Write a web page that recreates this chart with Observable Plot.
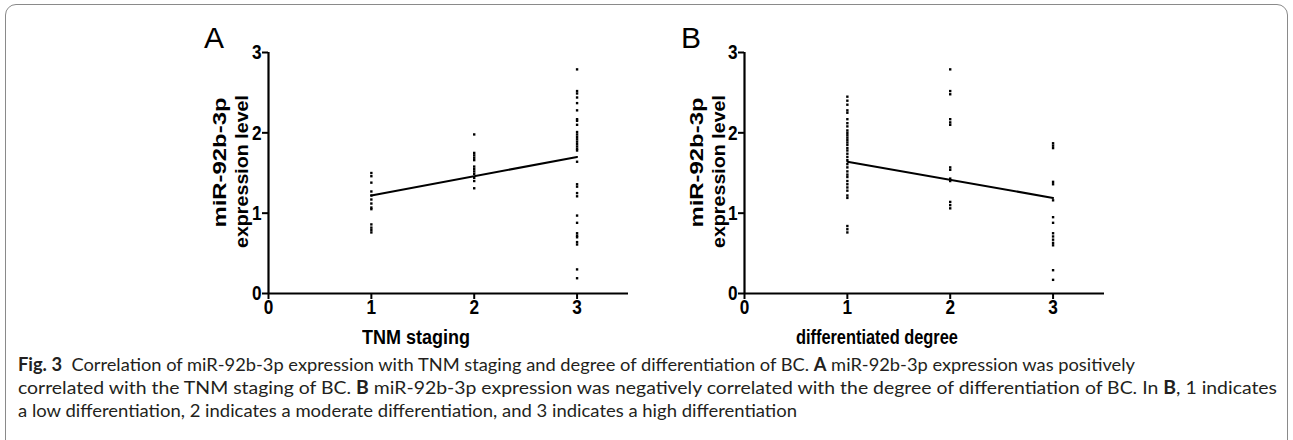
<!DOCTYPE html>
<html><head><meta charset="utf-8">
<script src="https://cdn.jsdelivr.net/npm/d3@7"></script>
<script src="https://cdn.jsdelivr.net/npm/@observablehq/plot@0.6"></script>
<style>
body{margin:0;background:#fff;}
#fig{position:relative;width:1293px;height:440px;overflow:hidden;font-family:Arial,"Liberation Sans",sans-serif;color:#000;}
#frame{position:absolute;left:5px;top:4px;width:1283px;height:470px;border:1.5px solid #8a8a8a;border-radius:11px;box-sizing:border-box;}
.panel{position:absolute;top:20px;}
.letter{position:absolute;font-size:30px;line-height:1;font-weight:normal;}
.xlab{position:absolute;font-size:20px;font-weight:bold;white-space:nowrap;line-height:1;}
.ylab{position:absolute;font-size:19px;font-weight:bold;white-space:nowrap;line-height:1;}
.cap{position:absolute;left:18px;font-family:Lato,"Open Sans",sans-serif;font-size:18px;white-space:nowrap;color:#231f20;transform-origin:0 50%;line-height:1;}
.cap b{font-weight:bold;}
</style></head>
<body>
<div id="fig">
  <div id="frame"></div>
  <div id="pA" class="panel" style="left:190px"></div>
  <div id="pB" class="panel" style="left:666px"></div>
  <div class="letter" style="left:204px;top:23px">A</div>
  <div class="letter" style="left:681px;top:23px">B</div>
  <div class="ylab" data-cx="220" data-cy="162" data-len="130">miR-92b-3p</div>
  <div class="ylab" data-cx="242" data-cy="171" data-len="153">expression level</div>
  <div class="ylab" data-cx="697" data-cy="162" data-len="130">miR-92b-3p</div>
  <div class="ylab" data-cx="719" data-cy="171" data-len="153">expression level</div>
  <div class="xlab" data-cx="416" data-cy="337" data-len="108">TNM staging</div>
  <div class="xlab" data-cx="877" data-cy="337" data-len="162">differentiated degree</div>
  <div class="cap" data-w="1117" style="top:355px"><b>Fig. 3</b>&nbsp; Correlation of miR-92b-3p expression with TNM staging and degree of differentiation of BC. <b>A</b> miR-92b-3p expression was positively</div>
  <div class="cap" data-w="1259" style="top:378px">correlated with the TNM staging of BC. <b>B</b> miR-92b-3p expression was negatively correlated with the degree of differentiation of BC. In <b>B</b>, 1 indicates</div>
  <div class="cap" data-w="779" style="top:401px">a low differentiation, 2 indicates a moderate differentiation, and 3 indicates a high differentiation</div>
</div>
<script>
// ---- data ----
const xTicks = [0, 1, 2, 3];
const yTicks = [0, 1, 2, 3];
// Panel A: TNM staging groups
const tnmStage1 = [1.50, 1.46, 1.38, 1.27, 1.22, 1.17, 1.12, 1.07, 1.05, 0.86, 0.82, 0.79, 0.76];
const tnmStage2 = [1.98, 1.75, 1.72, 1.69, 1.66, 1.58, 1.55, 1.52, 1.49, 1.44, 1.40, 1.31];
const tnmStage3 = [2.79, 2.52, 2.49, 2.44, 2.37, 2.28, 2.17, 2.15, 2.10, 2.01, 1.98, 1.95, 1.92, 1.89, 1.86, 1.83, 1.80, 1.78, 1.64, 1.36, 1.33, 1.25, 1.21, 0.97, 0.88, 0.75, 0.72, 0.70, 0.64, 0.61, 0.30, 0.19];
// Panel B: differentiated degree groups
const diffDeg1 = [2.45, 2.40, 2.35, 2.28, 2.25, 2.17, 2.12, 2.08, 2.03, 2.00, 1.97, 1.94, 1.91, 1.88, 1.85, 1.81, 1.78, 1.74, 1.70, 1.66, 1.61, 1.57, 1.52, 1.48, 1.45, 1.40, 1.36, 1.32, 1.28, 1.22, 1.19, 0.84, 0.80, 0.76];
const diffDeg2 = [2.79, 2.52, 2.48, 2.17, 2.13, 2.10, 1.57, 1.54, 1.43, 1.40, 1.14, 1.10, 1.06];
const diffDeg3 = [1.87, 1.84, 1.81, 1.39, 1.36, 1.16, 0.95, 0.88, 0.75, 0.71, 0.67, 0.63, 0.60, 0.29, 0.17];
// fitted regression lines (endpoints at groups 1 and 3)
const fitX = [1, 3];
const fitA = [1.22, 1.70];
const fitB = [1.64, 1.19];

function pts(groups) {
  return groups.flatMap((g, i) => g.map(v => ({x: i + 1, y: v})));
}
function panel(points, fitY) {
  const fit = fitX.map((x, i) => ({x, y: fitY[i]}));
  const svg = Plot.plot({
    width: 450, height: 303,
    marginLeft: 78, marginRight: 12, marginTop: 32, marginBottom: 30,
    style: {fontFamily: "Arial, 'Liberation Sans', sans-serif", color: "black", background: "transparent", overflow: "visible"},
    x: {domain: [0, 3.5], axis: null},
    y: {domain: [0, 3], axis: null},
    marks: [
      Plot.axisX({ticks: xTicks, tickSize: 6, strokeWidth: 2, label: null, tickFormat: () => ""}),
      Plot.axisY({ticks: yTicks, tickSize: 6, strokeWidth: 2, label: null, tickFormat: () => ""}),
      Plot.text(xTicks, {x: d => d, y: () => 0, dy: 14, text: d => String(d), fontSize: 21, fontWeight: "bold", fill: "black", lineAnchor: "middle"}),
      Plot.text(yTicks, {x: () => 0, y: d => d, dx: -7, text: d => String(d), fontSize: 21, fontWeight: "bold", fill: "black", textAnchor: "end", lineAnchor: "middle"}),
      Plot.ruleY([0], {stroke: "black", strokeWidth: 2.2}),
      Plot.ruleX([0], {stroke: "black", strokeWidth: 2.2}),
      Plot.dot(points, {x: "x", y: "y", symbol: "square", r: 1.35, fill: "black", stroke: null}),
      Plot.line(fit, {x: "x", y: "y", stroke: "black", strokeWidth: 2})
    ]
  });
  // the original figure uses tall, narrow tick digits
  svg.querySelectorAll("text").forEach(t => {
    const tr = t.getAttribute("transform") || "";
    t.setAttribute("transform", tr + " scale(0.82,1)");
  });
  return svg;
}
document.getElementById("pA").append(panel(pts([tnmStage1, tnmStage2, tnmStage3]), fitA));
document.getElementById("pB").append(panel(pts([diffDeg1, diffDeg2, diffDeg3]), fitB));

document.querySelectorAll(".cap").forEach(el => {
  const w = el.getBoundingClientRect().width;
  el.style.transform = `scaleX(${+el.dataset.w / w})`;
});
// place labels: centre at (cx, cy), stretched/compressed along the text to a given length
document.querySelectorAll(".ylab, .xlab").forEach(el => {
  const r = el.getBoundingClientRect();
  const s = +el.dataset.len / r.width;
  el.style.left = (+el.dataset.cx - r.width / 2) + "px";
  el.style.top = (+el.dataset.cy - r.height / 2) + "px";
  const rot = el.classList.contains("ylab") ? " rotate(-90deg)" : "";
  el.style.transformOrigin = "50% 50%";
  el.style.transform = rot + ` scaleX(${s})`;
});
</script>
</body></html>
